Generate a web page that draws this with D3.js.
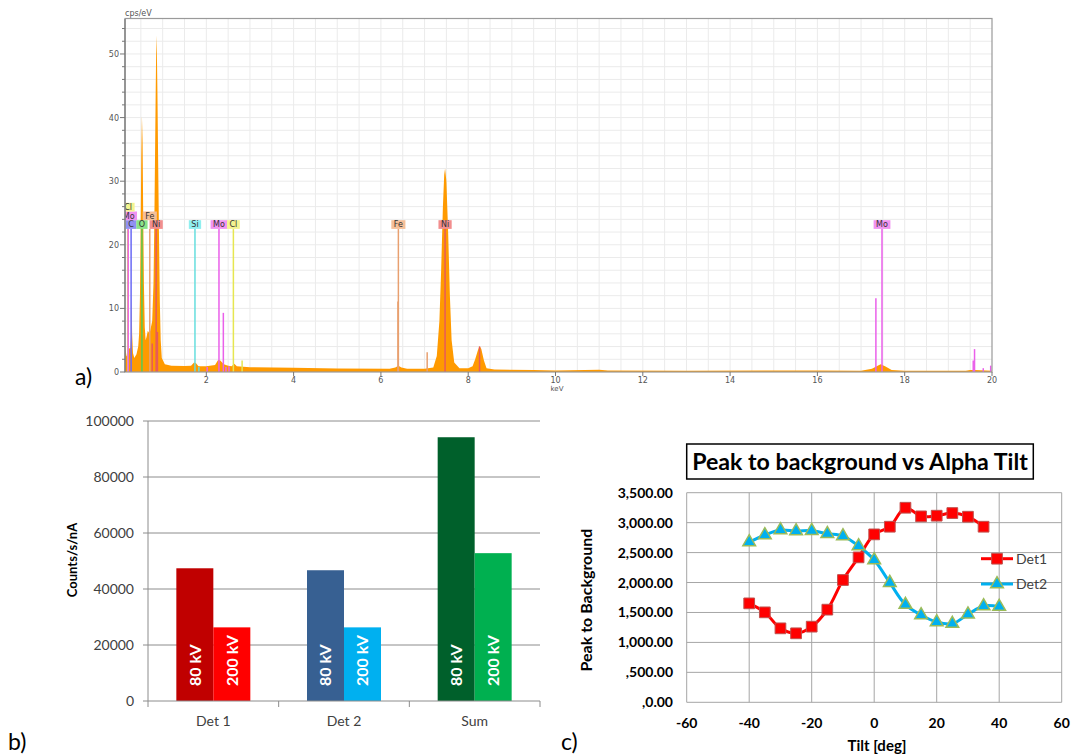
<!DOCTYPE html>
<html>
<head>
<meta charset="utf-8">
<script src="https://cdn.jsdelivr.net/npm/d3@7"></script>
<style>
  body { margin: 0; background: #fff; }
  svg { display: block; }
</style>
</head>
<body>
<svg id="fig" width="1072" height="754"></svg>
<script>
// ---------------- DATA ----------------

// a) EDS spectrum, [keV, cps/eV]
const spectrum = [
  [0.137, 4.0], [0.17, 2.6], [0.2, 2.2], [0.22, 3.6], [0.26, 3.8], [0.28, 6], [0.29, 11.8], [0.3, 6],
  [0.32, 3], [0.35, 2.2], [0.4, 2.8], [0.44, 4], [0.46, 6], [0.48, 12], [0.495, 22], [0.51, 34],
  [0.525, 40.2], [0.54, 36], [0.555, 24], [0.57, 14], [0.59, 7], [0.61, 5], [0.63, 5.5], [0.66, 6.5],
  [0.7, 6], [0.73, 7], [0.76, 8], [0.79, 14], [0.81, 24], [0.825, 34], [0.84, 44], [0.85, 50],
  [0.858, 52.9], [0.868, 50], [0.88, 44], [0.895, 34], [0.915, 22], [0.935, 11], [0.955, 5], [0.98, 2.2],
  [1.05, 1.2], [1.2, 1.0], [1.5, 0.95], [1.65, 1.0], [1.72, 1.5], [1.76, 1.4], [1.82, 0.9], [2.0, 0.9],
  [2.2, 1.1], [2.27, 1.9], [2.32, 1.8], [2.4, 1.2], [2.5, 1.0], [2.58, 0.9], [2.64, 1.3], [2.7, 0.9],
  [3.0, 0.75], [4.0, 0.65], [5.0, 0.55], [6.2, 0.5], [6.33, 0.7], [6.4, 1.0], [6.47, 0.7], [6.6, 0.5],
  [7.0, 0.5], [7.2, 0.7], [7.28, 2.5], [7.34, 8], [7.38, 16], [7.42, 26], [7.45, 31], [7.47, 32],
  [7.5, 30], [7.54, 22], [7.58, 12], [7.62, 5], [7.68, 1.5], [7.8, 0.6], [8.0, 0.6], [8.1, 0.9],
  [8.16, 2], [8.22, 3.4], [8.26, 4.1], [8.3, 3.6], [8.36, 1.8], [8.42, 0.6], [8.6, 0.4], [9.5, 0.3],
  [10, 0.25], [11, 0.35], [11.2, 0.25], [13, 0.2], [16, 0.25], [17.0, 0.2], [17.25, 0.5], [17.38, 1.0],
  [17.45, 1.2], [17.55, 0.9], [17.7, 0.3], [18.0, 0.2], [19.4, 0.2], [19.5, 0.3], [19.6, 0.3], [20, 0.2]
];

// element marker lines [element, keV, height]
const elementLines = [
  ["Cl", 0.2, 22.5], ["Mo", 0.21, 22.5], ["C", 0.277, 22.5], ["O", 0.525, 22.5], ["Fe", 0.705, 22.5],
  ["Ni", 0.76, 4.5], ["Ni", 0.851, 22.5], ["Ni", 0.88, 6.3],
  ["Si", 1.74, 22.5], ["Si", 1.83, 0.8],
  ["Mo", 2.02, 0.8], ["Mo", 2.29, 22.5], ["Mo", 2.39, 9.3], ["Mo", 2.45, 0.8], ["Mo", 2.52, 0.9],
  ["Cl", 2.62, 22.5], ["Cl", 2.82, 1.8],
  ["Fe", 6.40, 22.5], ["Fe", 6.39, 11.1], ["Fe", 7.06, 3.1],
  ["Ni", 7.47, 22.5], ["Ni", 8.26, 4.0],
  ["Mo", 17.34, 11.6], ["Mo", 17.48, 22.5], ["Mo", 19.57, 1.8], ["Mo", 19.6, 3.6], ["Mo", 19.8, 0.6], ["Mo", 19.97, 1.0]
];

// element labels [element, keV, stack row]
const elementLabels = [
  ["C", 0.277, 0], ["O", 0.525, 0], ["Ni", 0.851, 0], ["Si", 1.74, 0], ["Mo", 2.29, 0], ["Cl", 2.62, 0],
  ["Fe", 6.40, 0], ["Ni", 7.47, 0], ["Mo", 17.48, 0],
  ["Mo", 0.22, 1], ["Fe", 0.705, 1],
  ["Cl", 0.21, 2]
];

const spectrumXTicks = [2, 4, 6, 8, 10, 12, 14, 16, 18, 20];
const spectrumYTicks = [0, 10, 20, 30, 40, 50];

// b) counts per detector
const detCategories = ["Det 1", "Det 2", "Sum"];
const kvSeries = ["80 kV", "200 kV"];
const counts80 = [47400, 46700, 94200];
const counts200 = [26300, 26300, 52800];
const countTicks = [0, 20000, 40000, 60000, 80000, 100000];

// c) peak to background vs tilt
const tiltDet1 = [-40, -35, -30, -25, -20, -15, -10, -5, 0, 5, 10, 15, 20, 25, 30, 35];
const p2bDet1 = [1652, 1502, 1235, 1152, 1263, 1547, 2042, 2420, 2804, 2932, 3249, 3105, 3116, 3160, 3099, 2932];
const tiltDet2 = [-40, -35, -30, -25, -20, -15, -10, -5, 0, 5, 10, 15, 20, 25, 30, 35, 40];
const p2bDet2 = [2676, 2793, 2877, 2860, 2865, 2815, 2776, 2610, 2376, 1997, 1630, 1458, 1341, 1313, 1469, 1608, 1597];
const tiltTicks = [-60, -40, -20, 0, 20, 40, 60];
const p2bTicks = [0, 500, 1000, 1500, 2000, 2500, 3000, 3500];
const p2bTickLabels = [",0.00", ",500.00", "1,000.00", "1,500.00", "2,000.00", "2,500.00", "3,000.00", "3,500.00"];

// ---------------- STYLES ----------------
const elLine = { C: "#6a6af5", O: "#55cc55", Fe: "#e8a070", Ni: "#e85a5a", Si: "#66dede", Mo: "#ea60ea", Cl: "#e6e650" };
const elBox  = { C: "#9090f2", O: "#8ae48a", Fe: "#f5bf98", Ni: "#f28e8e", Si: "#90efef", Mo: "#f193f1", Cl: "#f4f490" };
const barColors = [["#c00000", "#ff0000"], ["#376092", "#00b0f0"], ["#00602b", "#00b050"]];

const svg = d3.select("#fig");
svg.append("rect").attr("width", 1072).attr("height", 754).attr("fill", "#fff");

// ================= a) spectrum =================
const sx = d3.scaleLinear().domain([0.137, 20]).range([125, 992]);
const sy = d3.scaleLinear().domain([0, 55.5]).range([372, 19]);
const sf = "DejaVu Sans, Verdana, sans-serif";

svg.append("clipPath").attr("id", "specClip")
  .append("rect").attr("x", 125).attr("y", 19).attr("width", 867).attr("height", 353);

const spec = svg.append("g");

// grid
spec.append("g").selectAll("line")
  .data(d3.range(0.5, 20, 0.5))
  .join("line")
  .attr("x1", d => sx(d)).attr("x2", d => sx(d))
  .attr("y1", 19).attr("y2", 372)
  .attr("stroke", "#ebebeb").attr("stroke-width", 1);
spec.append("g").selectAll("line")
  .data(d3.range(2, 55, 2))
  .join("line")
  .attr("x1", 125).attr("x2", 992)
  .attr("y1", d => sy(d)).attr("y2", d => sy(d))
  .attr("stroke", "#ebebeb").attr("stroke-width", 1);

const plot = spec.append("g").attr("clip-path", "url(#specClip)");

plot.append("path")
  .datum(spectrum)
  .attr("d", d3.area().x(d => sx(d[0])).y0(sy(0)).y1(d => sy(d[1])))
  .attr("fill", "#ff9a00");

plot.append("g").selectAll("line")
  .data(elementLines)
  .join("line")
  .attr("x1", d => sx(d[1])).attr("x2", d => sx(d[1]))
  .attr("y1", sy(0)).attr("y2", d => sy(d[2]))
  .attr("stroke", d => elLine[d[0]]).attr("stroke-width", 1.5);

const labRowH = 8.7;
const labs = plot.append("g").selectAll("g")
  .data(elementLabels)
  .join("g")
  .attr("transform", d => `translate(${sx(d[1])},${sy(22.5) - (d[2] + 1) * labRowH})`);
labs.append("text")
  .attr("y", 7.2)
  .attr("text-anchor", "middle")
  .attr("font-family", sf).attr("font-size", 8)
  .attr("fill", "#333")
  .text(d => d[0])
  .each(function (d) {
    const w = this.getComputedTextLength() + 5;
    d3.select(this.parentNode).insert("rect", "text")
      .attr("x", -w / 2).attr("y", 0).attr("width", w).attr("height", labRowH)
      .attr("fill", elBox[d[0]]);
  });

// frame + axes
spec.append("rect").attr("x", 125).attr("y", 18.5).attr("width", 867).attr("height", 353.5)
  .attr("fill", "none").attr("stroke", "#9a9a9a").attr("stroke-width", 1.2);
spec.append("line").attr("x1", 125).attr("x2", 125).attr("y1", 19).attr("y2", 372)
  .attr("stroke", "#777").attr("stroke-width", 1.2);

spec.append("g").selectAll("line")
  .data(d3.range(0, 56, 2))
  .join("line")
  .attr("x1", d => d % 10 === 0 ? 120 : 122).attr("x2", 125)
  .attr("y1", d => sy(d)).attr("y2", d => sy(d))
  .attr("stroke", "#777");
spec.append("g").selectAll("text")
  .data(spectrumYTicks)
  .join("text")
  .attr("x", 119).attr("y", d => sy(d) + 3)
  .attr("text-anchor", "end")
  .attr("font-family", sf).attr("font-size", 8).attr("fill", "#555")
  .text(d => d);

spec.append("g").selectAll("line")
  .data(spectrumXTicks)
  .join("line")
  .attr("x1", d => sx(d)).attr("x2", d => sx(d))
  .attr("y1", 372).attr("y2", 376)
  .attr("stroke", "#777");
spec.append("g").selectAll("text")
  .data(spectrumXTicks)
  .join("text")
  .attr("x", d => sx(d)).attr("y", 383)
  .attr("text-anchor", "middle")
  .attr("font-family", sf).attr("font-size", 8).attr("fill", "#555")
  .text(d => d);

spec.append("text").attr("x", 125).attr("y", 16)
  .attr("font-family", sf).attr("font-size", 8).attr("fill", "#555").text("cps/eV");
spec.append("text").attr("x", 557).attr("y", 391).attr("text-anchor", "middle")
  .attr("font-family", sf).attr("font-size", 7).attr("fill", "#555").text("keV");

// ================= b) bars =================
const bf = "Lato, 'Open Sans', sans-serif";
const x0 = d3.scaleBand().domain(detCategories).range([148, 540]);
const x1 = d3.scaleBand().domain(kvSeries).range([0, x0.bandwidth()]).paddingOuter(0.766);
const yb = d3.scaleLinear().domain([0, 100000]).range([701, 421]);

const bar = svg.append("g");
bar.append("g").selectAll("line")
  .data(countTicks.slice(1))
  .join("line")
  .attr("x1", 148).attr("x2", 540)
  .attr("y1", d => yb(d)).attr("y2", d => yb(d))
  .attr("stroke", "#8c8c8c").attr("stroke-width", 1);

const barData = detCategories.flatMap((c, i) => [
  { cat: c, s: kvSeries[0], v: counts80[i], col: barColors[i][0] },
  { cat: c, s: kvSeries[1], v: counts200[i], col: barColors[i][1] }
]);
bar.append("g").selectAll("rect")
  .data(barData)
  .join("rect")
  .attr("x", d => x0(d.cat) + x1(d.s))
  .attr("y", d => yb(d.v))
  .attr("width", x1.bandwidth())
  .attr("height", d => yb(0) - yb(d.v))
  .attr("fill", d => d.col);

bar.append("g").selectAll("text")
  .data(barData)
  .join("text")
  .attr("transform", d => `translate(${x0(d.cat) + x1(d.s) + x1.bandwidth() / 2},686) rotate(-90)`)
  .attr("dy", "0.36em")
  .attr("font-family", bf).attr("font-weight", 700).attr("font-size", 16)
  .attr("fill", "#fff")
  .text(d => d.s);

bar.append("line").attr("x1", 148).attr("x2", 148).attr("y1", 421).attr("y2", 701)
  .attr("stroke", "#8c8c8c");
bar.append("line").attr("x1", 148).attr("x2", 540).attr("y1", 701).attr("y2", 701)
  .attr("stroke", "#8c8c8c");
bar.append("g").selectAll("line")
  .data(countTicks)
  .join("line")
  .attr("x1", 143).attr("x2", 148)
  .attr("y1", d => yb(d)).attr("y2", d => yb(d))
  .attr("stroke", "#8c8c8c");
bar.append("g").selectAll("line")
  .data(detCategories.map(c => x0(c)).concat([540]))
  .join("line")
  .attr("x1", d => d).attr("x2", d => d)
  .attr("y1", 701).attr("y2", 707)
  .attr("stroke", "#8c8c8c");
bar.append("g").selectAll("text")
  .data(countTicks)
  .join("text")
  .attr("x", 134).attr("y", d => yb(d) + 5)
  .attr("text-anchor", "end")
  .attr("font-family", bf).attr("font-size", 14).attr("fill", "#404040")
  .text(d => d);
bar.append("g").selectAll("text")
  .data(detCategories)
  .join("text")
  .attr("x", d => x0(d) + x0.bandwidth() / 2).attr("y", 726)
  .attr("text-anchor", "middle")
  .attr("font-family", bf).attr("font-size", 14).attr("fill", "#404040")
  .text(d => d);
bar.append("text")
  .attr("transform", "translate(72,560) rotate(-90)")
  .attr("dy", "0.36em")
  .attr("text-anchor", "middle")
  .attr("font-family", bf).attr("font-weight", 700).attr("font-size", 13).attr("fill", "#000")
  .text("Counts/s/nA");

// ================= c) line chart =================
const lx = d3.scaleLinear().domain([-60, 60]).range([686.7, 1061.7]);
const ly = d3.scaleLinear().domain([0, 3500]).range([702.3, 492.7]);
const lc = svg.append("g");

lc.append("g").selectAll("line")
  .data(p2bTicks)
  .join("line")
  .attr("x1", lx(-60)).attr("x2", lx(60))
  .attr("y1", d => ly(d)).attr("y2", d => ly(d))
  .attr("stroke", "#a6a6a6");
lc.append("g").selectAll("line")
  .data(tiltTicks)
  .join("line")
  .attr("x1", d => lx(d)).attr("x2", d => lx(d))
  .attr("y1", ly(0)).attr("y2", ly(3500))
  .attr("stroke", "#a6a6a6");

lc.append("g").selectAll("text")
  .data(p2bTicks)
  .join("text")
  .attr("x", 673).attr("y", d => ly(d) + 5)
  .attr("text-anchor", "end")
  .attr("font-family", bf).attr("font-weight", 700).attr("font-size", 14).attr("fill", "#000")
  .text((d, i) => p2bTickLabels[i]);
lc.append("g").selectAll("text")
  .data(tiltTicks)
  .join("text")
  .attr("x", d => lx(d)).attr("y", 728)
  .attr("text-anchor", "middle")
  .attr("font-family", bf).attr("font-weight", 700).attr("font-size", 14).attr("fill", "#000")
  .text(d => d);

const curve = d3.curveCatmullRom.alpha(0.5);
const det1 = tiltDet1.map((t, i) => [t, p2bDet1[i]]);
const det2 = tiltDet2.map((t, i) => [t, p2bDet2[i]]);
const lineGen = d3.line().x(d => lx(d[0])).y(d => ly(d[1])).curve(curve);

lc.append("path").datum(det1).attr("d", lineGen)
  .attr("fill", "none").attr("stroke", "#ff0000").attr("stroke-width", 3);
lc.append("path").datum(det2).attr("d", lineGen)
  .attr("fill", "none").attr("stroke", "#00b0f0").attr("stroke-width", 3);

const sq = d3.symbol().type(d3.symbolSquare).size(115);
const tri = d3.symbol().type(d3.symbolTriangle).size(70);

lc.append("g").selectAll("path")
  .data(det1)
  .join("path")
  .attr("transform", d => `translate(${lx(d[0])},${ly(d[1])})`)
  .attr("d", sq)
  .attr("fill", "#ff0000").attr("stroke", "#c0504d").attr("stroke-width", 1);
lc.append("g").selectAll("path")
  .data(det2)
  .join("path")
  .attr("transform", d => `translate(${lx(d[0])},${ly(d[1])})`)
  .attr("d", tri)
  .attr("fill", "#00b0f0").attr("stroke", "#9bbb59").attr("stroke-width", 1.5);

// legend
const legend = [["Det1", "#ff0000", sq, "#c0504d", 1, 558.7], ["Det2", "#00b0f0", tri, "#9bbb59", 1.5, 584]];
const lg = lc.append("g").selectAll("g").data(legend).join("g")
  .attr("transform", d => `translate(0,${d[5]})`);
lg.append("line").attr("x1", 981).attr("x2", 1013)
  .attr("stroke", d => d[1]).attr("stroke-width", 3);
lg.append("path").attr("transform", "translate(997,0)").attr("d", d => d[2]())
  .attr("fill", d => d[1]).attr("stroke", d => d[3]).attr("stroke-width", d => d[4]);
lg.append("text").attr("x", 1016).attr("y", 5)
  .attr("font-family", bf).attr("font-size", 14).attr("fill", "#404040")
  .text(d => d[0]);

// title box
lc.append("rect").attr("x", 686.7).attr("y", 444).attr("width", 346.6).attr("height", 35)
  .attr("fill", "#fff").attr("stroke", "#000").attr("stroke-width", 1.5);
const title = lc.append("text").attr("x", 860).attr("y", 469.5)
  .attr("text-anchor", "middle")
  .attr("font-family", bf).attr("font-weight", 700).attr("font-size", 20).attr("fill", "#000")
  .text("Peak to background vs Alpha Tilt");
const tw = title.node().getComputedTextLength();
title.attr("font-size", 20 * 336 / tw);

lc.append("text")
  .attr("transform", "translate(586,600) rotate(-90)")
  .attr("dy", "0.36em")
  .attr("text-anchor", "middle")
  .attr("font-family", bf).attr("font-weight", 700).attr("font-size", 16).attr("fill", "#000")
  .text("Peak to Background");
lc.append("text").attr("x", 877).attr("y", 751)
  .attr("text-anchor", "middle")
  .attr("font-family", bf).attr("font-weight", 700).attr("font-size", 15).attr("fill", "#000")
  .text("Tilt [deg]");

// panel letters
const panels = [["a)", 75, 385], ["b)", 8, 750], ["c)", 561, 750]];
svg.append("g").selectAll("text").data(panels).join("text")
  .attr("x", d => d[1]).attr("y", d => d[2])
  .attr("font-family", bf).attr("font-size", 23).attr("fill", "#000")
  .text(d => d[0]);
</script>
</body>
</html>
